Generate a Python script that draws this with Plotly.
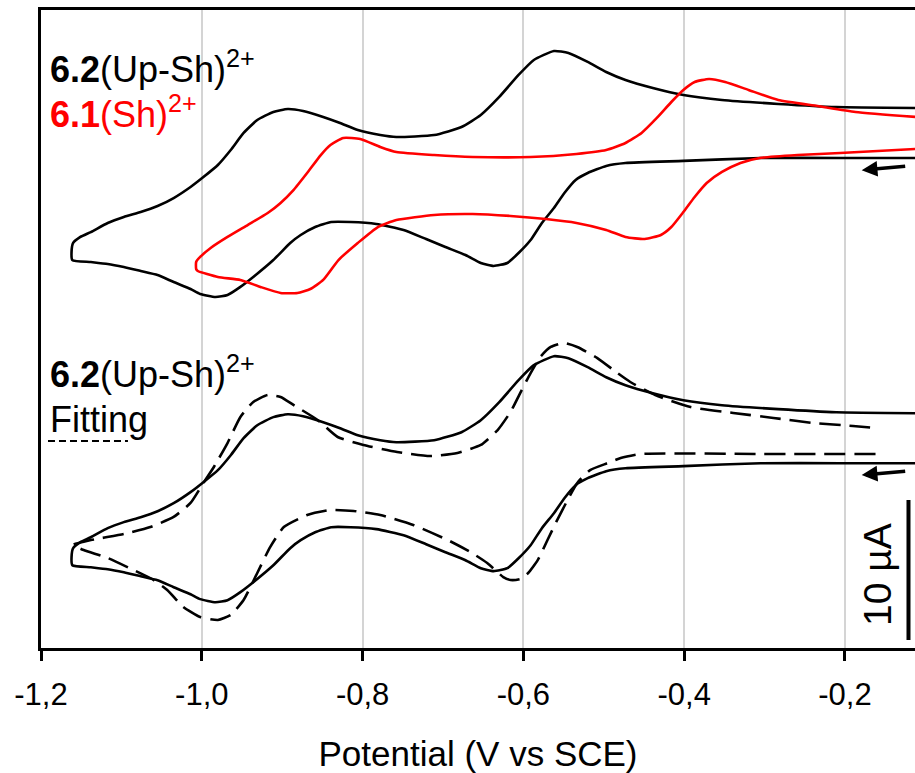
import plotly.graph_objects as go

# ---- data (potential in V vs SCE, current in µA) ----
# experimental CV of 6.2(Up-Sh)2+ : scan starts at right, goes cathodic (lower branch), returns (upper branch)
potential_exp = [-0.112, -0.206, -0.305, -0.401, -0.473, -0.497, -0.520, -0.535, -0.549, -0.562,
                 -0.577, -0.591, -0.606, -0.620, -0.637, -0.653, -0.672, -0.697, -0.721, -0.749,
                 -0.783, -0.815, -0.839, -0.859, -0.877, -0.890, -0.911, -0.936, -0.952, -0.968,
                 -0.983, -1.002, -1.014, -1.035, -1.055, -1.076, -1.097, -1.117, -1.138, -1.161,
                 -1.162, -1.160,
                 -1.151, -1.138, -1.117, -1.097, -1.076, -1.055, -1.035, -1.014, -0.998, -0.980,
                 -0.964, -0.948, -0.931, -0.911, -0.893, -0.874, -0.849, -0.828, -0.806, -0.778,
                 -0.758, -0.711, -0.677, -0.653, -0.630, -0.606, -0.587, -0.562, -0.544, -0.520,
                 -0.497, -0.473, -0.439, -0.401, -0.353, -0.283, -0.211, -0.112]
current_exp = [-1.00, -1.00, -1.00, -1.21, -1.36, -1.57, -2.07, -2.57, -3.50, -4.57,
               -5.64, -6.86, -7.79, -8.50, -8.71, -8.50, -7.93, -7.36, -6.79, -6.14,
               -5.71, -5.57, -5.57, -5.93, -6.50, -7.07, -8.29, -9.50, -10.21, -10.79,
               -10.93, -10.71, -10.36, -9.86, -9.36, -9.07, -8.79, -8.57, -8.43, -8.29,
               -7.71, -7.07,
               -6.64, -6.29, -5.64, -5.21, -4.86, -4.43, -3.86, -3.07, -2.36, -1.50,
               -0.43, 0.79, 1.71, 2.29, 2.50, 2.36, 1.93, 1.50, 1.00, 0.64,
               0.50, 0.64, 1.21, 2.07, 3.36, 4.93, 6.00, 6.64, 6.50, 5.86,
               5.14, 4.57, 4.00, 3.50, 3.14, 2.86, 2.64, 2.57]

# experimental CV of 6.1(Sh)2+
potential_sh = [-0.112, -0.206, -0.259, -0.306, -0.330, -0.353, -0.372, -0.387, -0.401, -0.416,
                -0.429, -0.449, -0.473, -0.497, -0.534, -0.572, -0.616, -0.663, -0.711, -0.758,
                -0.781, -0.806, -0.830, -0.849, -0.865, -0.881, -0.902, -0.927, -0.952, -0.980,
                -1.005, -1.007, -1.007,
                -1.002, -0.989, -0.968, -0.943, -0.918, -0.902, -0.886, -0.869, -0.852, -0.840,
                -0.824, -0.803, -0.778, -0.758, -0.711, -0.663, -0.591, -0.534, -0.497, -0.473,
                -0.453, -0.434, -0.416, -0.401, -0.387, -0.369, -0.349, -0.320, -0.283, -0.234,
                -0.187, -0.112]
current_sh = [-0.36, -0.64, -0.79, -1.00, -1.36, -2.00, -2.79, -3.79, -4.86, -5.93,
              -6.50, -6.79, -6.64, -6.14, -5.64, -5.36, -5.14, -5.00, -5.07, -5.43,
              -5.93, -7.07, -8.29, -9.71, -10.36, -10.64, -10.64, -10.21, -9.71, -9.50,
              -9.07, -8.93, -8.43,
              -8.07, -7.43, -6.64, -5.79, -4.93, -4.21, -3.29, -2.07, -0.79, -0.07,
              0.43, 0.36, -0.21, -0.57, -0.79, -0.93, -0.93, -0.71, -0.43, 0.07,
              0.79, 1.86, 3.00, 3.86, 4.43, 4.64, 4.43, 3.86, 3.14, 2.71,
              2.29, 1.93]

# simulated (fitted) CV of 6.2(Up-Sh)2+
potential_fit = [-0.162, -0.305, -0.454, -0.479, -0.495, -0.517, -0.533, -0.545, -0.558, -0.570,
                 -0.582, -0.594, -0.604, -0.616, -0.625, -0.645, -0.666, -0.694, -0.737, -0.778,
                 -0.811, -0.840, -0.869, -0.898, -0.915, -0.931, -0.948, -0.964, -0.980, -1.002,
                 -1.023, -1.043, -1.060, -1.085, -1.117, -1.147, -1.160,
                 -1.138, -1.097, -1.064, -1.035, -1.014, -0.998, -0.985, -0.968, -0.952, -0.936,
                 -0.918, -0.902, -0.886, -0.856, -0.831, -0.799, -0.757, -0.716, -0.682, -0.653,
                 -0.632, -0.616, -0.604, -0.591, -0.579, -0.566, -0.550, -0.533, -0.508, -0.483,
                 -0.467, -0.436, -0.392, -0.339, -0.289, -0.239, -0.190, -0.162]
current_fit = [-0.34, -0.34, -0.34, -0.63, -0.99, -1.49, -2.41, -3.63, -5.06, -6.49,
               -7.91, -8.84, -9.27, -9.34, -9.13, -8.13, -7.34, -6.49, -5.41, -4.70,
               -4.41, -4.34, -4.70, -5.56, -6.99, -8.84, -10.77, -11.84, -12.20, -11.99,
               -11.27, -10.06, -9.34, -8.63, -7.77, -7.20, -6.84,
               -6.49, -6.06, -5.56, -4.84, -3.84, -2.41, -1.27, 0.44, 2.30, 3.37,
               3.87, 3.73, 3.16, 2.09, 0.87, 0.30, -0.20, -0.49, -0.27, 0.30,
               1.37, 2.66, 4.01, 5.44, 6.59, 7.30, 7.59, 7.30, 6.51, 5.44,
               4.80, 3.87, 3.01, 2.59, 2.23, 1.87, 1.66, 1.51]

offset_top = 36.0      # µA, vertical offset of the upper pair of CVs
offset_bottom = 14.2   # µA, vertical offset of the lower pair of CVs
scale_bar_uA = 10      # µA

tick_vals = [-1.2, -1.0, -0.8, -0.6, -0.4, -0.2]
tick_text = ["-1,2", "-1,0", "-0,8", "-0,6", "-0,4", "-0,2"]

FONT = "Liberation Sans, Arial, sans-serif"
LW = 2.6

fig = go.Figure()
fig.add_trace(go.Scatter(x=potential_exp, y=[c + offset_top for c in current_exp], mode="lines",
                         line=dict(color="#000000", width=LW, shape="spline", smoothing=0.5)))
fig.add_trace(go.Scatter(x=potential_sh, y=[c + offset_top for c in current_sh], mode="lines",
                         line=dict(color="#ff0000", width=LW, shape="spline", smoothing=0.5)))
fig.add_trace(go.Scatter(x=potential_exp, y=[c + offset_bottom for c in current_exp], mode="lines",
                         line=dict(color="#000000", width=LW, shape="spline", smoothing=0.5)))
fig.add_trace(go.Scatter(x=potential_fit, y=[c + offset_bottom for c in current_fit], mode="lines",
                         line=dict(color="#000000", width=LW, dash="21px,9px", shape="spline", smoothing=0.5)))

# scale bar (10 µA)
sb_x = -0.121
fig.add_shape(type="line", xref="x", yref="y", x0=sb_x, x1=sb_x, y0=0.57, y1=0.57 + scale_bar_uA,
              line=dict(color="#000000", width=4))

annotations = [
    dict(text="<b>6.2</b>(Up-Sh)<sup>2+</sup>", x=0.008, y=0.91, color="#000000"),
    dict(text="<b>6.1</b>(Sh)<sup>2+</sup>", x=0.008, y=0.84, color="#ff0000"),
    dict(text="<b>6.2</b>(Up-Sh)<sup>2+</sup>", x=0.008, y=0.433, color="#000000"),
    dict(text="Fitting", x=0.008, y=0.358, color="#000000"),
]
for a in annotations:
    fig.add_annotation(text=a["text"], x=a["x"], y=a["y"], xref="paper", yref="paper",
                       xanchor="left", yanchor="middle", showarrow=False,
                       font=dict(family=FONT, size=36, color=a["color"]))

# dashed underline of "Fitting"
fig.add_shape(type="line", xref="paper", yref="paper", x0=0.008, x1=0.0995, y0=0.3245, y1=0.3245,
              line=dict(color="#000000", width=2, dash="7px,4px"))

fig.add_annotation(text="10 µA", x=0.957, y=0.115, xref="paper", yref="paper", textangle=-90,
                   showarrow=False, xanchor="center", yanchor="middle",
                   font=dict(family=FONT, size=39, color="#000000"))

# scan-direction arrows
for ya in (0.749, 0.271):
    fig.add_annotation(text="", x=0.939, y=ya, xref="paper", yref="paper", showarrow=True,
                       ax=45, ay=-4, arrowhead=2, arrowsize=0.9, arrowwidth=3.5, arrowcolor="#000000")

fig.update_layout(
    width=915, height=773,
    margin=dict(l=41, r=0, t=10, b=125),
    paper_bgcolor="white", plot_bgcolor="white",
    showlegend=False,
    font=dict(family=FONT, color="#000000"),
    xaxis=dict(range=[-1.2, -0.1129], tickvals=tick_vals, ticktext=tick_text,
               showgrid=True, gridcolor="#d4d4d4", gridwidth=1.5, zeroline=False,
               showline=True, linecolor="#000000", linewidth=2.5, mirror=True,
               ticks="outside", ticklen=10, tickwidth=2.5, tickcolor="#000000",
               ticklabelstandoff=7,
               tickfont=dict(family=FONT, size=31, color="#000000"),
               title=dict(text="Potential (V vs SCE)", standoff=38,
                          font=dict(family=FONT, size=35, color="#000000"))),
    yaxis=dict(range=[0, 45.57], showgrid=False, zeroline=False, showticklabels=False, ticks="",
               showline=True, linecolor="#000000", linewidth=2.5),
)

fig.write_html("out.html")
